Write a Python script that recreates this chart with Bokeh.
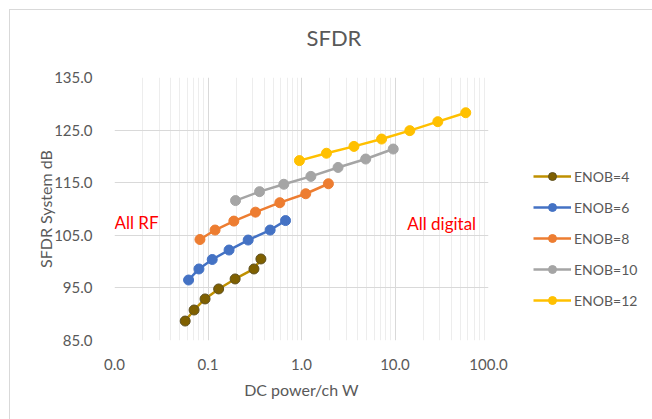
from bokeh.plotting import figure
from bokeh.models import (FixedTicker, CustomJSTickFormatter, Range1d, Label,
                          Legend, LegendItem, Title)
from bokeh.embed import file_html
from bokeh.resources import INLINE

# DC power per channel (W) and system SFDR (dB) for each ENOB
enob4_x = [0.057, 0.071, 0.093, 0.130, 0.195, 0.310, 0.368]
enob4_y = [88.7, 90.8, 92.9, 94.8, 96.7, 98.6, 100.5]

enob6_x = [0.062, 0.080, 0.111, 0.168, 0.269, 0.462, 0.675]
enob6_y = [96.5, 98.6, 100.4, 102.2, 104.1, 106.0, 107.8]

enob8_x = [0.082, 0.119, 0.189, 0.322, 0.586, 1.11, 1.94]
enob8_y = [104.2, 106.0, 107.7, 109.4, 111.2, 112.9, 114.8]

enob10_x = [0.197, 0.356, 0.647, 1.26, 2.46, 4.86, 9.57]
enob10_y = [111.6, 113.3, 114.7, 116.2, 117.9, 119.5, 121.4]

enob12_x = [0.95, 1.85, 3.64, 7.19, 14.4, 28.7, 57.1]
enob12_y = [119.2, 120.6, 121.9, 123.3, 124.9, 126.6, 128.3]

series_labels = ["ENOB=4", "ENOB=6", "ENOB=8", "ENOB=10", "ENOB=12"]

x_ticks = [0.01, 0.1, 1, 10, 100]
x_minor = [m * d for d in [0.01, 0.1, 1, 10] for m in range(2, 10)]
y_ticks = [85, 95, 105, 115, 125, 135]

FONT = "Lato"
GREY = "#595959"

p = figure(x_axis_type="log", x_range=Range1d(0.01, 100), y_range=Range1d(85, 135),
           frame_width=374, frame_height=263,
           min_border_left=104, min_border_right=164,
           min_border_top=67, min_border_bottom=79,
           output_backend="svg", toolbar_location=None)
p.styles = {"margin-left": "9px", "margin-top": "9px",
            "border-left": "1px solid #D9D9D9", "border-top": "1px solid #D9D9D9"}
p.outline_line_color = None
p.background_fill_color = "white"
p.border_fill_color = "white"

# heading sits high above the plot area: a blank second line lifts it
p.title = Title(text="SFDR\n ", align="left", offset=192, standoff=0,
                text_font=FONT, text_font_size="22px", text_color=GREY,
                text_font_style="normal")

# axes
p.xaxis.ticker = FixedTicker(ticks=x_ticks, minor_ticks=x_minor)
p.yaxis.ticker = FixedTicker(ticks=y_ticks)
fmt = "return tick.toFixed(1);"
p.xaxis.formatter = CustomJSTickFormatter(code=fmt)
p.yaxis.formatter = CustomJSTickFormatter(code=fmt)
for ax in (p.xaxis, p.yaxis):
    ax.axis_line_color = None
    ax.major_tick_line_color = None
    ax.minor_tick_line_color = None
    ax.major_label_text_font = FONT
    ax.major_label_text_font_size = "15px"
    ax.major_label_text_color = GREY
    ax.axis_label_text_font = FONT
    ax.axis_label_text_font_size = "16px"
    ax.axis_label_text_color = GREY
    ax.axis_label_text_font_style = "normal"
p.xaxis.axis_label = "DC power/ch W"
p.yaxis.axis_label = "SFDR System dB"
p.xaxis.major_label_standoff = 12
p.xaxis.axis_label_standoff = 7
p.yaxis.major_label_standoff = 16
p.yaxis.axis_label_standoff = -4

# grid
p.xgrid.grid_line_color = "#D9D9D9"
p.xgrid.minor_grid_line_color = "#EDEDED"
p.ygrid.grid_line_color = "#D9D9D9"

series = [
    (enob4_x, enob4_y, "#BF9000", "#7F6000", "#5E5020"),
    (enob6_x, enob6_y, "#4472C4", "#4472C4", "#4472C4"),
    (enob8_x, enob8_y, "#ED7D31", "#ED7D31", "#ED7D31"),
    (enob10_x, enob10_y, "#A5A5A5", "#A5A5A5", "#A5A5A5"),
    (enob12_x, enob12_y, "#FFC000", "#FFC000", "#FFC000"),
]

items = []
for (xs, ys, lc, fc, oc), lab in zip(series, series_labels):
    lr = p.line(xs, ys, line_color=lc, line_width=2.5)
    sr = p.scatter(xs, ys, size=10, fill_color=fc, line_color=oc, line_width=1)
    items.append(LegendItem(label=lab, renderers=[lr, sr]))

legend = Legend(items=items, location=(45, 30),
                label_text_font=FONT, label_text_font_size="14px",
                label_text_color=GREY, glyph_width=38, glyph_height=20,
                label_height=20, spacing=11, label_standoff=3,
                padding=0, margin=0, border_line_color=None,
                background_fill_alpha=0)
p.add_layout(legend, "right")

# region annotations
p.add_layout(Label(x=0.01, y=107.4, text="All RF", text_align="left",
                   text_baseline="middle", text_font=FONT,
                   text_font_size="17px", text_color="#FF0000"))
p.add_layout(Label(x=13.5, y=107.3, text="All digital", text_align="left",
                   text_baseline="middle", text_font=FONT,
                   text_font_size="17px", text_color="#FF0000"))

open("out.html", "w").write(file_html(p, INLINE))
